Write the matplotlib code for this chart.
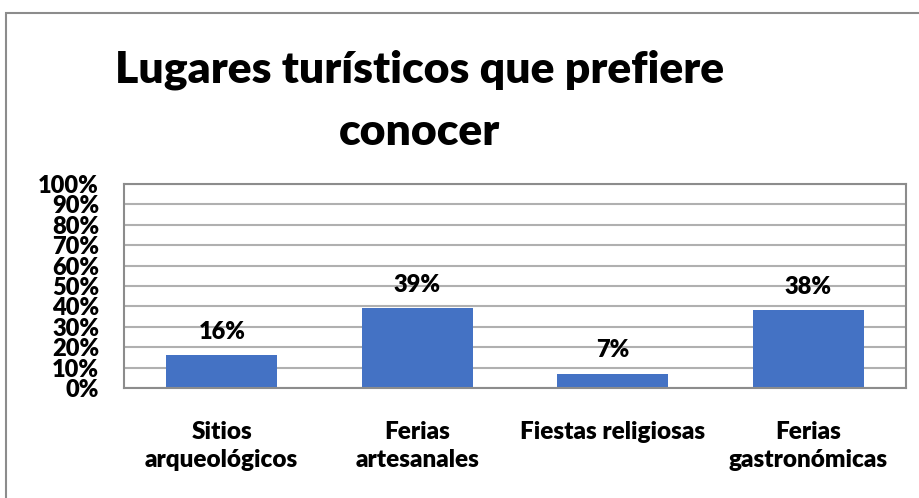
import matplotlib

matplotlib.use("Agg")
import matplotlib.pyplot as plt
from matplotlib.patches import Rectangle
from matplotlib.ticker import MultipleLocator, PercentFormatter

plt.rcParams["font.family"] = ["Lato", "DejaVu Sans"]
plt.rcParams["font.weight"] = "heavy"

# data
categories = ["Sitios\narqueológicos", "Ferias\nartesanales", "Fiestas religiosas", "Ferias\ngastronómicas"]
shares = [0.16, 0.39, 0.07, 0.38]
title = "Lugares turísticos que prefiere\nconocer"

BAR_COLOR = "#4472C4"
GRID_COLOR = "#b0b0b0"
FRAME_COLOR = "#8c8c8c"
WEIGHT = "heavy"

fig = plt.figure(figsize=(9.2, 4.98), dpi=100)
ax = fig.add_axes((124 / 920, 1 - 388 / 498, 782 / 920, 204 / 498))

x = list(range(len(categories)))
bars = ax.bar(x, shares, width=0.57, color=BAR_COLOR, zorder=2)
ax.bar_label(bars, labels=[f"{v:.0%}" for v in shares], padding=9,
             fontsize=17, fontweight=WEIGHT)

ax.set_xlim(-0.5, len(categories) - 0.5)
ax.set_ylim(0, 1)
ax.yaxis.set_major_locator(MultipleLocator(0.1))
ax.yaxis.set_major_formatter(PercentFormatter(1.0, decimals=0))
ax.grid(True, axis="y", color=GRID_COLOR, linewidth=1.5, zorder=0)
ax.set_axisbelow(True)

ax.set_xticks(x)
ax.set_xticklabels(categories, fontsize=17.5, fontweight=WEIGHT, linespacing=1.32)
ax.tick_params(axis="x", length=0, pad=24)
ax.tick_params(axis="y", length=0, pad=18, labelsize=17)
for label in ax.get_yticklabels():
    label.set_fontweight(WEIGHT)
for spine in ax.spines.values():
    spine.set_color(FRAME_COLOR)
    spine.set_linewidth(1.5)

fig.text(420 / 920, 1 - 101 / 498, title, ha="center", va="center",
         fontsize=32, fontweight=WEIGHT, linespacing=1.68)

# outer chart frame (runs off the right and bottom edges)
fig.add_artist(Rectangle((6 / 920, -0.1), 1.2, 1 - 13.5 / 498 + 0.1,
                         transform=fig.transFigure, fill=False,
                         edgecolor=FRAME_COLOR, linewidth=1.5))

fig.savefig("out.png", dpi=100)
